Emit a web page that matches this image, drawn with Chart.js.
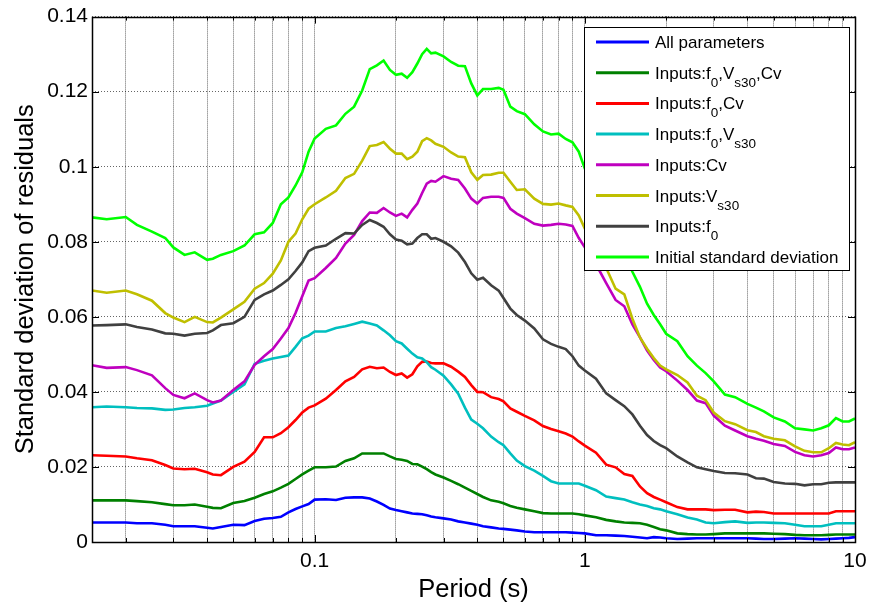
<!DOCTYPE html>
<html>
<head>
<meta charset="utf-8">
<script src="https://cdn.jsdelivr.net/npm/chart.js@4"></script>
<style>
  html, body { margin: 0; padding: 0; background: #fff; }
  canvas { display: block; }
</style>
</head>
<body>
<canvas id="chart" width="869" height="605"></canvas>
<script>
// Spectral periods (s) at which the residual standard deviations are given
const periods = [0.015,0.017,0.02,0.022,0.025,0.028,0.03,0.033,0.036,0.04,
  0.042,0.045,0.05,0.055,0.06,0.065,0.07,0.075,0.08,0.085,
  0.09,0.095,0.1,0.11,0.12,0.13,0.14,0.15,0.16,0.17,
  0.18,0.19,0.2,0.21,0.22,0.23,0.24,0.25,0.26,0.27,
  0.28,0.3,0.32,0.34,0.36,0.38,0.4,0.42,0.45,0.48,
  0.5,0.53,0.56,0.6,0.65,0.7,0.75,0.8,0.85,0.9,
  0.95,1,1.1,1.2,1.3,1.4,1.5,1.6,1.7,1.8,
  1.9,2,2.2,2.4,2.6,2.8,3,3.3,3.6,4,
  4.3,4.6,5,5.5,6,6.5,7,7.5,8,8.5,
  9,9.5,10];

const allParameters = [0.0052,0.0052,0.0052,0.0050,0.0050,0.0046,0.0042,0.0042,0.0042,0.0038,
  0.0036,0.0040,0.0046,0.0045,0.0056,0.0062,0.0064,0.0067,0.0079,0.0088,
  0.0095,0.0101,0.0113,0.0114,0.0112,0.0118,0.0119,0.0119,0.0116,0.0108,
  0.0099,0.0089,0.0085,0.0082,0.0079,0.0076,0.0075,0.0074,0.0071,0.0068,
  0.0066,0.0063,0.0060,0.0055,0.0052,0.0049,0.0046,0.0042,0.0039,0.0036,
  0.0035,0.0033,0.0031,0.0028,0.0026,0.0026,0.0026,0.0026,0.0026,0.0025,
  0.0024,0.0023,0.0018,0.0018,0.0017,0.0016,0.0014,0.0012,0.0010,0.0013,
  0.0012,0.0010,0.0008,0.0009,0.0010,0.0010,0.0010,0.0010,0.0010,0.0010,
  0.0009,0.0008,0.0008,0.0009,0.0010,0.0009,0.0008,0.0007,0.0008,0.0009,
  0.0010,0.0011,0.0013];

const inputsF0Vs30Cv = [0.0111,0.0111,0.0111,0.0109,0.0106,0.0101,0.0098,0.0098,0.0100,0.0094,
  0.0091,0.0090,0.0104,0.0109,0.0118,0.0128,0.0135,0.0145,0.0155,0.0168,
  0.0180,0.0190,0.0199,0.0199,0.0201,0.0216,0.0223,0.0236,0.0236,0.0236,
  0.0236,0.0228,0.0221,0.0219,0.0216,0.0208,0.0207,0.0201,0.0194,0.0186,
  0.0180,0.0172,0.0163,0.0154,0.0145,0.0136,0.0128,0.0120,0.0111,0.0107,
  0.0103,0.0096,0.0091,0.0087,0.0082,0.0077,0.0076,0.0076,0.0076,0.0076,
  0.0074,0.0071,0.0066,0.0059,0.0055,0.0052,0.0051,0.0050,0.0046,0.0040,
  0.0034,0.0031,0.0023,0.0021,0.0020,0.0020,0.0021,0.0023,0.0023,0.0023,
  0.0023,0.0023,0.0022,0.0021,0.0019,0.0018,0.0018,0.0018,0.0019,0.0020,
  0.0020,0.0020,0.0020];

const inputsF0Cv = [0.0231,0.0230,0.0228,0.0223,0.0218,0.0205,0.0196,0.0194,0.0195,0.0186,
  0.0180,0.0178,0.0200,0.0214,0.0240,0.0279,0.0279,0.0290,0.0306,0.0325,
  0.0345,0.0358,0.0364,0.0382,0.0405,0.0428,0.0440,0.0460,0.0467,0.0463,
  0.0465,0.0453,0.0445,0.0449,0.0438,0.0447,0.0468,0.0480,0.0481,0.0477,
  0.0476,0.0476,0.0467,0.0454,0.0440,0.0418,0.0400,0.0399,0.0386,0.0381,
  0.0375,0.0356,0.0347,0.0336,0.0324,0.0309,0.0301,0.0295,0.0289,0.0281,
  0.0268,0.0257,0.0238,0.0206,0.0199,0.0181,0.0176,0.0148,0.0130,0.0120,
  0.0113,0.0106,0.0093,0.0087,0.0087,0.0087,0.0085,0.0086,0.0086,0.0079,
  0.0081,0.0080,0.0076,0.0076,0.0076,0.0076,0.0076,0.0076,0.0076,0.0082,
  0.0082,0.0082,0.0082];

const inputsF0Vs30 = [0.0359,0.0361,0.0359,0.0357,0.0356,0.0352,0.0353,0.0357,0.0359,0.0363,
  0.0369,0.0377,0.0400,0.0420,0.0475,0.0483,0.0489,0.0493,0.0497,0.0520,
  0.0543,0.0550,0.0561,0.0561,0.0570,0.0575,0.0581,0.0587,0.0582,0.0577,
  0.0564,0.0551,0.0535,0.0529,0.0515,0.0502,0.0492,0.0489,0.0479,0.0466,
  0.0459,0.0443,0.0420,0.0395,0.0358,0.0326,0.0315,0.0303,0.0281,0.0266,
  0.0258,0.0236,0.0217,0.0202,0.0190,0.0176,0.0162,0.0156,0.0156,0.0156,
  0.0156,0.0150,0.0138,0.0121,0.0117,0.0113,0.0106,0.0100,0.0096,0.0090,
  0.0087,0.0082,0.0074,0.0065,0.0060,0.0052,0.0050,0.0053,0.0055,0.0051,
  0.0052,0.0052,0.0051,0.0050,0.0046,0.0042,0.0042,0.0042,0.0046,0.0050,
  0.0050,0.0050,0.0050];

const inputsCv = [0.0471,0.0464,0.0466,0.0458,0.0444,0.0410,0.0392,0.0383,0.0396,0.0378,
  0.0372,0.0377,0.0405,0.0428,0.0472,0.0495,0.0514,0.0542,0.0570,0.0610,
  0.0655,0.0697,0.0703,0.0730,0.0757,0.0795,0.0818,0.0855,0.0878,0.0877,
  0.0890,0.0878,0.0869,0.0875,0.0865,0.0885,0.0902,0.0930,0.0955,0.0962,
  0.0960,0.0975,0.0968,0.0965,0.0942,0.0915,0.0902,0.0917,0.0920,0.0920,
  0.0917,0.0888,0.0875,0.0863,0.0848,0.0843,0.0845,0.0848,0.0846,0.0842,
  0.0810,0.0785,0.0740,0.0690,0.0645,0.0628,0.0580,0.0545,0.0510,0.0485,
  0.0465,0.0455,0.0430,0.0405,0.0377,0.0370,0.0337,0.0310,0.0297,0.0282,
  0.0275,0.0270,0.0261,0.0256,0.0240,0.0231,0.0228,0.0231,0.0237,0.0252,
  0.0247,0.0247,0.0252];

const inputsVs30 = [0.0670,0.0664,0.0670,0.0660,0.0643,0.0610,0.0598,0.0586,0.0600,0.0586,
  0.0585,0.0598,0.0620,0.0640,0.0675,0.0690,0.0715,0.0750,0.0800,0.0822,
  0.0860,0.0888,0.0900,0.0918,0.0936,0.0970,0.0981,0.1016,0.1055,0.1058,
  0.1066,0.1048,0.1035,0.1035,0.1020,0.1027,0.1040,0.1068,0.1076,0.1070,
  0.1061,0.1053,0.1038,0.1027,0.1025,0.0985,0.0965,0.0978,0.0979,0.0984,
  0.0984,0.0960,0.0938,0.0940,0.0915,0.0901,0.0899,0.0902,0.0897,0.0893,
  0.0870,0.0835,0.0795,0.0730,0.0675,0.0660,0.0595,0.0545,0.0515,0.0490,
  0.0470,0.0460,0.0445,0.0425,0.0390,0.0378,0.0345,0.0322,0.0314,0.0298,
  0.0293,0.0282,0.0275,0.0271,0.0255,0.0243,0.0239,0.0239,0.0250,0.0264,
  0.0260,0.0258,0.0266];

const inputsF0 = [0.0577,0.0578,0.0580,0.0573,0.0566,0.0556,0.0555,0.0550,0.0555,0.0557,
  0.0564,0.0578,0.0583,0.0600,0.0645,0.0660,0.0670,0.0685,0.0700,0.0722,
  0.0745,0.0775,0.0784,0.0790,0.0808,0.0823,0.0822,0.0845,0.0858,0.0850,
  0.0840,0.0820,0.0806,0.0803,0.0793,0.0795,0.0810,0.0820,0.0820,0.0808,
  0.0810,0.0800,0.0788,0.0771,0.0746,0.0716,0.0699,0.0704,0.0684,0.0670,
  0.0650,0.0622,0.0605,0.0590,0.0569,0.0540,0.0528,0.0520,0.0514,0.0495,
  0.0470,0.0457,0.0435,0.0396,0.0378,0.0362,0.0340,0.0310,0.0285,0.0269,
  0.0258,0.0250,0.0228,0.0212,0.0199,0.0194,0.0189,0.0184,0.0183,0.0180,
  0.0170,0.0169,0.0160,0.0156,0.0155,0.0151,0.0154,0.0154,0.0158,0.0159,
  0.0159,0.0159,0.0159];

const initialStd = [0.0865,0.0860,0.0866,0.0845,0.0827,0.0810,0.0785,0.0765,0.0772,0.0752,
  0.0755,0.0765,0.0775,0.0790,0.0820,0.0825,0.0850,0.0900,0.0918,0.0950,
  0.0985,0.1040,0.1075,0.1101,0.1110,0.1141,0.1160,0.1203,0.1260,0.1270,
  0.1283,0.1258,0.1245,0.1248,0.1237,0.1252,0.1275,0.1300,0.1314,0.1302,
  0.1304,0.1294,0.1279,0.1269,0.1268,0.1222,0.1190,0.1207,0.1207,0.1210,
  0.1205,0.1160,0.1148,0.1140,0.1113,0.1094,0.1086,0.1088,0.1074,0.1065,
  0.1040,0.0995,0.0930,0.0870,0.0820,0.0770,0.0720,0.0680,0.0635,0.0605,
  0.0580,0.0555,0.0535,0.0495,0.0470,0.0450,0.0428,0.0393,0.0386,0.0368,
  0.0358,0.0348,0.0332,0.0321,0.0303,0.0300,0.0297,0.0303,0.0311,0.0330,
  0.0321,0.0321,0.0329];

// Series names (TeX-style subscripts: _x or _{xyz})
const seriesNames = ['All parameters', 'Inputs:f_0,V_{s30},Cv', 'Inputs:f_0,Cv', 'Inputs:f_0,V_{s30}',
  'Inputs:Cv', 'Inputs:V_{s30}', 'Inputs:f_0', 'Initial standard deviation'];
const seriesValues = [allParameters, inputsF0Vs30Cv, inputsF0Cv, inputsF0Vs30,
  inputsCv, inputsVs30, inputsF0, initialStd];
const seriesColors = ['#0000ff', '#008000', '#ff0000', '#00bfbf', '#bf00bf', '#bfbf00', '#404040', '#00ff00'];

// Axis ticks
const xTicks = [0.02,0.03,0.04,0.05,0.06,0.07,0.08,0.09,0.1,0.2,0.3,0.4,0.5,0.6,0.7,0.8,0.9,1,2,3,4,5,6,7,8,9,10];
const xTickLabels = { '0.1': '0.1', '1': '1', '10': '10' };
const yTicks = [0, 0.02, 0.04, 0.06, 0.08, 0.1, 0.12, 0.14];
const yTickLabels = ['0', '0.02', '0.04', '0.06', '0.08', '0.1', '0.12', '0.14'];

const xTitle = 'Period (s)';
const yTitle = 'Standard deviation of residuals';

const FONT = 'Arial, "Liberation Sans", sans-serif';

function parseTex(s) {
  const parts = [];
  let buf = '', i = 0;
  while (i < s.length) {
    if (s[i] === '_') {
      if (buf) { parts.push({ t: buf, sub: false }); buf = ''; }
      i++;
      let t;
      if (s[i] === '{') { const j = s.indexOf('}', i); t = s.slice(i + 1, j); i = j + 1; }
      else { t = s[i]; i++; }
      parts.push({ t, sub: true });
    } else { buf += s[i]; i++; }
  }
  if (buf) parts.push({ t: buf, sub: false });
  return parts;
}

// Box, inward tick marks, axis titles and the legend (MATLAB look)
const axesDecor = {
  id: 'axesDecor',
  afterDatasetsDraw(chart) {
    const { ctx, chartArea: a, scales: { x, y } } = chart;
    ctx.save();
    ctx.strokeStyle = '#000';
    ctx.lineWidth = 1;
    ctx.beginPath();
    xTicks.forEach(v => {
      const px = Math.round(x.getPixelForValue(v)) + 0.5;
      const len = xTickLabels[String(v)] ? 7 : 4;
      ctx.moveTo(px, a.bottom); ctx.lineTo(px, a.bottom - len);
      ctx.moveTo(px, a.top); ctx.lineTo(px, a.top + len);
    });
    yTicks.forEach(v => {
      const py = Math.round(y.getPixelForValue(v)) + 0.5;
      ctx.moveTo(a.left, py); ctx.lineTo(a.left + 7, py);
      ctx.moveTo(a.right, py); ctx.lineTo(a.right - 7, py);
    });
    ctx.stroke();
    ctx.lineWidth = 1.5;
    ctx.strokeRect(Math.round(a.left) + 0.5, Math.round(a.top) + 0.5,
      Math.round(a.right - a.left), Math.round(a.bottom - a.top));

    // legend
    const lx = 584, ly = 27, lw = 265, lh = 243;
    ctx.fillStyle = '#fff';
    ctx.fillRect(lx, ly, lw, lh);
    ctx.lineWidth = 1;
    ctx.strokeStyle = '#000';
    ctx.strokeRect(lx + 0.5, ly + 0.5, lw, lh);
    ctx.textBaseline = 'alphabetic';
    ctx.textAlign = 'left';
    chart.data.datasets.slice().sort((p, q) => p.seriesIndex - q.seriesIndex).forEach((ds, k) => {
      const rowY = 42 + k * 30.7;
      ctx.strokeStyle = ds.borderColor;
      ctx.lineWidth = 3;
      ctx.beginPath();
      ctx.moveTo(596, rowY); ctx.lineTo(649, rowY);
      ctx.stroke();
      ctx.fillStyle = '#000';
      let tx = 655;
      parseTex(ds.label).forEach(p => {
        ctx.font = (p.sub ? '13.5px ' : '17px ') + FONT;
        ctx.fillText(p.t, tx, rowY + (p.sub ? 14 : 6));
        tx += ctx.measureText(p.t).width;
      });
    });

    // axis titles
    ctx.fillStyle = '#000';
    ctx.font = '25.5px ' + FONT;
    ctx.textAlign = 'center';
    ctx.fillText(xTitle, (a.left + a.right) / 2, 596.5);
    ctx.translate(33, (a.top + a.bottom) / 2);
    ctx.rotate(-Math.PI / 2);
    ctx.fillText(yTitle, 0, 0);
    ctx.restore();
  }
};

const datasets = seriesValues.map((vals, i) => ({
  label: seriesNames[i],
  seriesIndex: i,
  data: periods.map((p, j) => ({ x: p, y: vals[j] })),
  borderColor: seriesColors[i],
  backgroundColor: seriesColors[i],
  borderWidth: 2.6,
  pointRadius: 0,
  tension: 0,
  fill: false,
  order: seriesValues.length - 1 - i
}));

new Chart(document.getElementById('chart'), {
  type: 'line',
  data: { datasets },
  plugins: [axesDecor],
  options: {
    responsive: false,
    animation: false,
    devicePixelRatio: 1,
    layout: { padding: { left: 0, right: 14, top: 16, bottom: 0 } },
    plugins: { legend: { display: false }, tooltip: { enabled: false } },
    scales: {
      x: {
        type: 'logarithmic',
        min: 0.015,
        max: 10,
        afterBuildTicks: s => { s.ticks = xTicks.map(v => ({ value: v })); },
        afterFit: s => { s.height = 63; s.paddingLeft = 0; s.paddingRight = 0; },
        ticks: {
          autoSkip: false,
          maxRotation: 0,
          padding: 7,
          color: '#000',
          font: { family: FONT, size: 21 },
          callback: v => xTickLabels[String(v)] || ''
        },
        grid: { color: 'rgba(0,0,0,0.6)', lineWidth: 1, drawTicks: false },
        border: { display: false, dash: [1, 1] }
      },
      y: {
        type: 'linear',
        min: 0,
        max: 0.14,
        afterBuildTicks: s => { s.ticks = yTicks.map(v => ({ value: v })); },
        afterFit: s => { s.width = 92; },
        ticks: {
          padding: 4,
          color: '#000',
          font: { family: FONT, size: 21 },
          callback: (v, i) => yTickLabels[i]
        },
        grid: { color: 'rgba(0,0,0,0.6)', lineWidth: 1, drawTicks: false },
        border: { display: false, dash: [1, 2] }
      }
    }
  }
});
</script>
</body>
</html>
